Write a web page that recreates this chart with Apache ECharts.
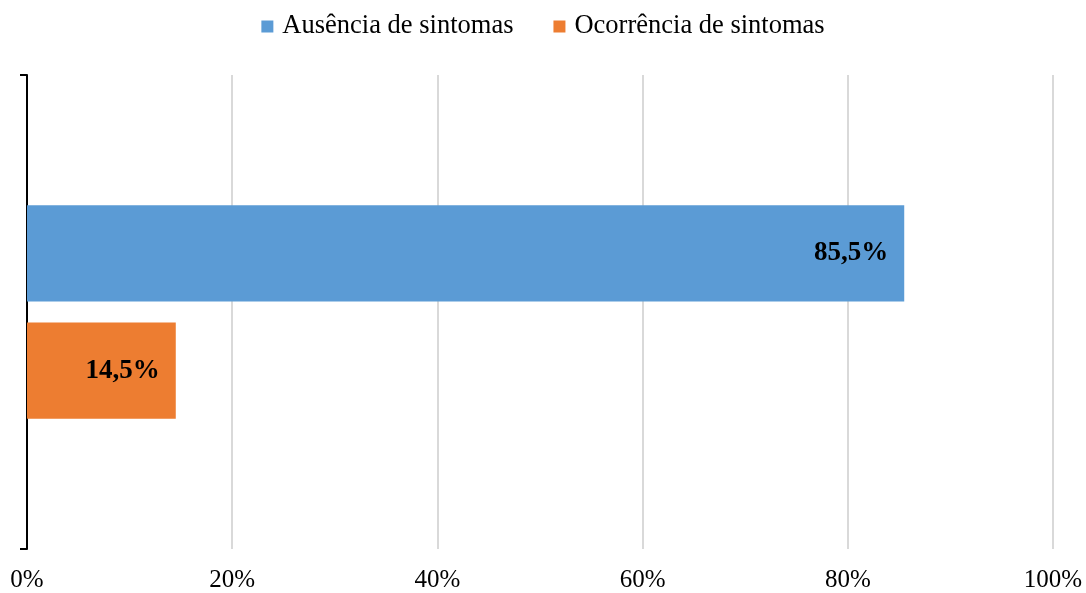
<!DOCTYPE html>
<html>
<head>
<meta charset="utf-8">
<script src="https://cdn.jsdelivr.net/npm/echarts@6/dist/echarts.min.js"></script>
<style>
  html, body { margin: 0; padding: 0; background: #fff; }
  #chart { width: 1086px; height: 593px; }
</style>
</head>
<body>
<div id="chart"></div>
<script>
const categories = ['']
const seriesNames = ['Ausência de sintomas', 'Ocorrência de sintomas']
const ausencia = [85.5]
const ocorrencia = [14.5]
const colors = ['#5b9bd5', '#ed7d31']

const font = '"Liberation Serif", "Times New Roman", serif'

const chart = echarts.init(document.getElementById('chart'))

const labelStyle = {
  show: true,
  position: 'insideRight',
  distance: 16,
  color: '#000',
  fontFamily: font,
  fontWeight: 'bold',
  fontSize: 27,
  formatter: (p) => p.value.toFixed(1).replace('.', ',') + '%'
}

chart.setOption({
  animation: false,
  color: colors,
  textStyle: { fontFamily: font },
  legend: {
    top: 8,
    left: 'center',
    itemWidth: 12,
    itemHeight: 12,
    itemGap: 40,
    icon: 'rect',
    textStyle: { fontFamily: font, fontSize: 26.5, color: '#000', padding: [0, 0, 0, 4] },
    data: seriesNames
  },
  grid: { left: 27, right: 33, top: 75, bottom: 44, containLabel: false },
  xAxis: {
    type: 'value',
    min: 0,
    max: 100,
    interval: 20,
    axisLine: { show: false },
    axisTick: { show: false },
    splitLine: { lineStyle: { color: '#d9d9d9', width: 2 } },
    axisLabel: {
      fontFamily: font,
      fontSize: 25,
      color: '#000',
      margin: 19,
      formatter: '{value}%'
    }
  },
  yAxis: {
    type: 'category',
    data: categories,
    inverse: true,
    axisLine: { show: true, lineStyle: { color: '#000', width: 2 } },
    axisTick: { show: true, inside: false, length: 7, lineStyle: { color: '#000', width: 2 } },
    axisLabel: { show: false }
  },
  series: [
    {
      name: seriesNames[0],
      type: 'bar',
      data: ausencia,
      barGap: '22%',
      barCategoryGap: '55%',
      label: labelStyle
    },
    {
      name: seriesNames[1],
      type: 'bar',
      data: ocorrencia,
      barGap: '22%',
      barCategoryGap: '55%',
      label: labelStyle
    }
  ]
})
</script>
</body>
</html>
